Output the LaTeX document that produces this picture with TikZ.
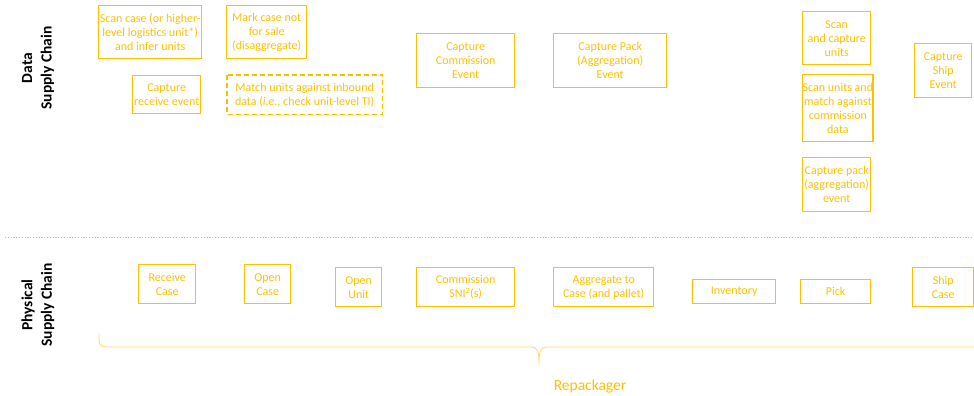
\documentclass[tikz,border=0pt]{standalone}
\usepackage{fontspec}
\setmainfont{Carlito}
\definecolor{gsorange}{HTML}{FFC000}
\definecolor{gsgrey}{HTML}{BFBFBF}

\begin{document}
\begin{tikzpicture}[x=1pt,y=-1pt,
  stepbox/.style={draw=gsorange,line width=1.4pt,text=gsorange,align=center,inner sep=0pt,anchor=north west,font=\fontsize{12}{14}\selectfont},
  lane/.style={rotate=90,align=center,font=\fontsize{15.5}{19.5}\selectfont\bfseries}]
  \useasboundingbox (0,0) rectangle (974,396);
  % lane titles
  \node[lane] (datalbl) at (38,68) {Data\\Supply Chain};
  \node[lane] (physlbl) at (38,305) {Physical\\Supply Chain};
  \draw[gsgrey,line width=0.8pt,dash pattern=on 1.2pt off 1.6pt] (5,237) -- (974,237);
  % data supply chain
  \node[stepbox,minimum width=103pt,minimum height=53pt] (scancase) at (98,5) {Scan case (or higher-\\level logistics unit*)\\and infer units};
  \node[stepbox,minimum width=80pt,minimum height=53pt] (markcase) at (226,5) {Mark case not\\for sale\\(disaggregate)};
  \node[stepbox,minimum width=68pt,minimum height=38pt] (capreceive) at (132,75) {Capture\\receive event};
  \node[stepbox,draw=none,minimum width=154pt,minimum height=38pt] (matchunits) at (227,75) {Match units against inbound\\data (\textit{i.e.}, check unit-level TI)};
  \draw[gsorange,line width=1.4pt,dash pattern=on 5pt off 3pt] (matchunits.north west) rectangle (matchunits.south east);
  \node[stepbox,minimum width=98pt,minimum height=54pt] (capcommission) at (416,33) {Capture\\Commission\\Event};
  \node[stepbox,minimum width=113pt,minimum height=54pt] (cappack) at (553,33) {Capture Pack\\(Aggregation)\\Event};
  \node[stepbox,minimum width=68pt,minimum height=53pt] (scancapture) at (802,11) {Scan\\and capture\\units};
  \node[stepbox,minimum width=70pt,minimum height=67pt] (scanmatch) at (802,74) {Scan units and\\match against\\commission\\data};
  \node[stepbox,minimum width=68pt,minimum height=54pt] (cappackevt) at (802,157) {Capture pack\\(aggregation)\\event};
  \node[stepbox,minimum width=57pt,minimum height=54pt] (capship) at (914,43) {Capture\\Ship\\Event};
  % physical supply chain
  \node[stepbox,minimum width=57pt,minimum height=39pt] (receive) at (138,264) {Receive\\Case};
  \node[stepbox,minimum width=46pt,minimum height=39pt] (opencase) at (244,264) {Open\\Case};
  \node[stepbox,minimum width=46pt,minimum height=39pt] (openunit) at (335,267) {Open\\Unit};
  \node[stepbox,minimum width=98pt,minimum height=39pt] (commission) at (416,267) {Commission\\SNI\textsuperscript{2}(s)};
  \node[stepbox,minimum width=100pt,minimum height=39pt] (aggregate) at (553,267) {Aggregate to\\Case (and pallet)};
  \node[stepbox,minimum width=83pt,minimum height=24pt] (inventory) at (692,279) {Inventory};
  \node[stepbox,minimum width=70pt,minimum height=24pt] (pick) at (800,279) {Pick};
  \node[stepbox,minimum width=61pt,minimum height=39pt] (shipcase) at (912,267) {Ship\\Case};
  % brace
  \draw[gsorange!55,line width=0.9pt] (99,333) .. controls (99,346) .. (107,347) -- (531,347)
    .. controls (538,347) and (539,352) .. (539,365) .. controls (539,352) and (540,347) .. (547,347) -- (980,347);
  \node[text=gsorange,font=\fontsize{15.5}{18}\selectfont] (repack) at (590,386) {Repackager};
\end{tikzpicture}
\end{document}
